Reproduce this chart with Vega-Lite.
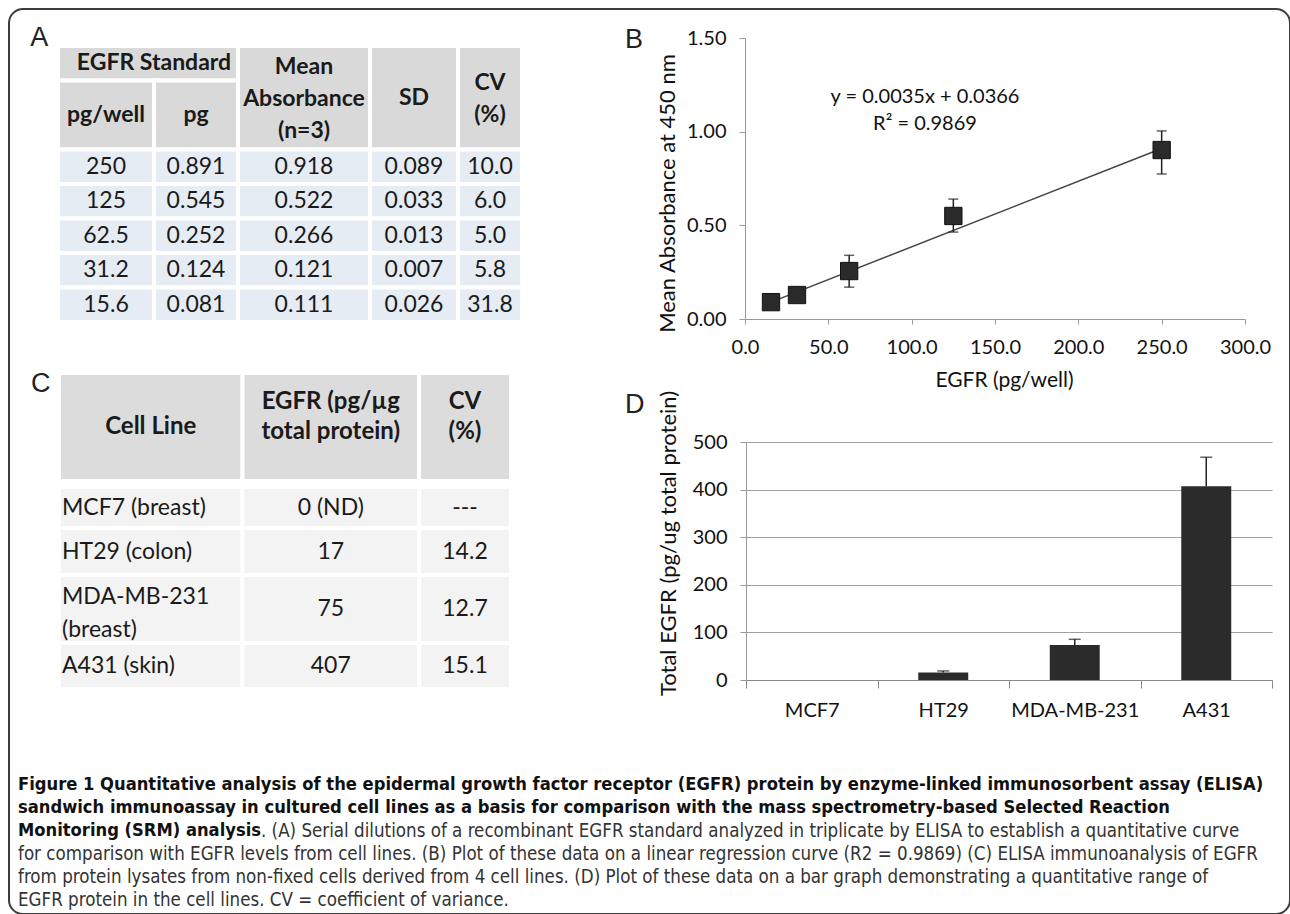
{
  "$schema": "https://vega.github.io/schema/vega-lite/v6.json",
  "width": 1281,
  "height": 905,
  "autosize": "none",
  "padding": {"left": 9, "top": 9, "right": 0, "bottom": 0},
  "background": "white",
  "config": {
    "view": {"stroke": "#3c3c3c", "strokeWidth": 2, "cornerRadius": 14},
    "font": "Lato",
    "axis": {"domainColor": "#999999", "tickColor": "#999999", "labelColor": "#111111", "titleColor": "#111111", "labelFont": "Lato", "titleFont": "Lato", "labelFlush": false, "labelOverlap": false}
  },
  "datasets": {
    "tabA": [
      {"c0": 0, "c1": 2, "r0": 0, "r1": 1, "cm": 1, "rm": 0.5, "k": "h", "t": "EGFR Standard"},
      {"c0": 0, "c1": 1, "r0": 1, "r1": 3, "cm": 0.5, "rm": 2, "k": "h", "t": "pg/well"},
      {"c0": 1, "c1": 2, "r0": 1, "r1": 3, "cm": 1.5, "rm": 2, "k": "h", "t": "pg"},
      {"c0": 2, "c1": 3, "r0": 0, "r1": 3, "cm": 2.5, "rm": 0.61, "k": "h", "t": "Mean\nAbsorbance\n(n=3)"},
      {"c0": 3, "c1": 4, "r0": 0, "r1": 3, "cm": 3.5, "rm": 1.5, "k": "h", "t": "SD"},
      {"c0": 4, "c1": 5, "r0": 0, "r1": 3, "cm": 4.5, "rm": 1.07, "k": "h", "t": "CV\n(%)"},
      {"c0": 0, "c1": 1, "r0": 3, "r1": 4, "cm": 0.5, "rm": 3.5, "k": "b", "t": "250"},
      {"c0": 1, "c1": 2, "r0": 3, "r1": 4, "cm": 1.5, "rm": 3.5, "k": "b", "t": "0.891"},
      {"c0": 2, "c1": 3, "r0": 3, "r1": 4, "cm": 2.5, "rm": 3.5, "k": "b", "t": "0.918"},
      {"c0": 3, "c1": 4, "r0": 3, "r1": 4, "cm": 3.5, "rm": 3.5, "k": "b", "t": "0.089"},
      {"c0": 4, "c1": 5, "r0": 3, "r1": 4, "cm": 4.5, "rm": 3.5, "k": "b", "t": "10.0"},
      {"c0": 0, "c1": 1, "r0": 4, "r1": 5, "cm": 0.5, "rm": 4.5, "k": "b", "t": "125"},
      {"c0": 1, "c1": 2, "r0": 4, "r1": 5, "cm": 1.5, "rm": 4.5, "k": "b", "t": "0.545"},
      {"c0": 2, "c1": 3, "r0": 4, "r1": 5, "cm": 2.5, "rm": 4.5, "k": "b", "t": "0.522"},
      {"c0": 3, "c1": 4, "r0": 4, "r1": 5, "cm": 3.5, "rm": 4.5, "k": "b", "t": "0.033"},
      {"c0": 4, "c1": 5, "r0": 4, "r1": 5, "cm": 4.5, "rm": 4.5, "k": "b", "t": "6.0"},
      {"c0": 0, "c1": 1, "r0": 5, "r1": 6, "cm": 0.5, "rm": 5.5, "k": "b", "t": "62.5"},
      {"c0": 1, "c1": 2, "r0": 5, "r1": 6, "cm": 1.5, "rm": 5.5, "k": "b", "t": "0.252"},
      {"c0": 2, "c1": 3, "r0": 5, "r1": 6, "cm": 2.5, "rm": 5.5, "k": "b", "t": "0.266"},
      {"c0": 3, "c1": 4, "r0": 5, "r1": 6, "cm": 3.5, "rm": 5.5, "k": "b", "t": "0.013"},
      {"c0": 4, "c1": 5, "r0": 5, "r1": 6, "cm": 4.5, "rm": 5.5, "k": "b", "t": "5.0"},
      {"c0": 0, "c1": 1, "r0": 6, "r1": 7, "cm": 0.5, "rm": 6.5, "k": "b", "t": "31.2"},
      {"c0": 1, "c1": 2, "r0": 6, "r1": 7, "cm": 1.5, "rm": 6.5, "k": "b", "t": "0.124"},
      {"c0": 2, "c1": 3, "r0": 6, "r1": 7, "cm": 2.5, "rm": 6.5, "k": "b", "t": "0.121"},
      {"c0": 3, "c1": 4, "r0": 6, "r1": 7, "cm": 3.5, "rm": 6.5, "k": "b", "t": "0.007"},
      {"c0": 4, "c1": 5, "r0": 6, "r1": 7, "cm": 4.5, "rm": 6.5, "k": "b", "t": "5.8"},
      {"c0": 0, "c1": 1, "r0": 7, "r1": 8, "cm": 0.5, "rm": 7.5, "k": "b", "t": "15.6"},
      {"c0": 1, "c1": 2, "r0": 7, "r1": 8, "cm": 1.5, "rm": 7.5, "k": "b", "t": "0.081"},
      {"c0": 2, "c1": 3, "r0": 7, "r1": 8, "cm": 2.5, "rm": 7.5, "k": "b", "t": "0.111"},
      {"c0": 3, "c1": 4, "r0": 7, "r1": 8, "cm": 3.5, "rm": 7.5, "k": "b", "t": "0.026"},
      {"c0": 4, "c1": 5, "r0": 7, "r1": 8, "cm": 4.5, "rm": 7.5, "k": "b", "t": "31.8"}
    ],
    "tabC": [
      {"c0": 0, "c1": 1, "r0": 0, "r1": 1, "cm": 0.5, "rm": 0.5, "k": "h", "t": "Cell Line"},
      {"c0": 1, "c1": 2, "r0": 0, "r1": 1, "cm": 1.5, "rm": 0.27, "k": "h", "t": "EGFR (pg/µg\ntotal protein)"},
      {"c0": 2, "c1": 3, "r0": 0, "r1": 1, "cm": 2.5, "rm": 0.27, "k": "h", "t": "CV\n(%)"},
      {"c0": 0, "c1": 1, "r0": 2, "r1": 3, "cm": 0.5, "rm": 2.5, "k": "b", "t": "MCF7 (breast)"},
      {"c0": 1, "c1": 2, "r0": 2, "r1": 3, "cm": 1.5, "rm": 2.5, "k": "b", "t": "0 (ND)"},
      {"c0": 2, "c1": 3, "r0": 2, "r1": 3, "cm": 2.5, "rm": 2.5, "k": "b", "t": "---"},
      {"c0": 0, "c1": 1, "r0": 3, "r1": 4, "cm": 0.5, "rm": 3.5, "k": "b", "t": "HT29 (colon)"},
      {"c0": 1, "c1": 2, "r0": 3, "r1": 4, "cm": 1.5, "rm": 3.5, "k": "b", "t": "17"},
      {"c0": 2, "c1": 3, "r0": 3, "r1": 4, "cm": 2.5, "rm": 3.5, "k": "b", "t": "14.2"},
      {"c0": 0, "c1": 1, "r0": 4, "r1": 5, "cm": 0.5, "rm": 4.32, "k": "b", "t": "MDA-MB-231\n(breast)"},
      {"c0": 1, "c1": 2, "r0": 4, "r1": 5, "cm": 1.5, "rm": 4.5, "k": "b", "t": "75"},
      {"c0": 2, "c1": 3, "r0": 4, "r1": 5, "cm": 2.5, "rm": 4.5, "k": "b", "t": "12.7"},
      {"c0": 0, "c1": 1, "r0": 5, "r1": 6, "cm": 0.5, "rm": 5.5, "k": "b", "t": "A431 (skin)"},
      {"c0": 1, "c1": 2, "r0": 5, "r1": 6, "cm": 1.5, "rm": 5.5, "k": "b", "t": "407"},
      {"c0": 2, "c1": 3, "r0": 5, "r1": 6, "cm": 2.5, "rm": 5.5, "k": "b", "t": "15.1"}
    ],
    "bpts": [
      {"x": 15.6, "y": 0.09},
      {"x": 31.2, "y": 0.128},
      {"x": 62.5, "y": 0.256, "lo": 0.17, "hi": 0.34},
      {"x": 125, "y": 0.55, "lo": 0.464, "hi": 0.64},
      {"x": 250, "y": 0.902, "lo": 0.774, "hi": 1.004}
    ],
    "bline": [
      {"x": 15.6, "y": 0.09},
      {"x": 250, "y": 0.91}
    ],
    "dbars": [
      {"c": "MCF7", "v": 0},
      {"c": "HT29", "v": 15.5, "hi": 19},
      {"c": "MDA-MB-231", "v": 73.5, "hi": 85.5},
      {"c": "A431", "v": 407, "hi": 468}
    ],
    "cap": [
      {"line": 1, "w": "b", "t": "Figure 1 Quantitative analysis of the epidermal growth factor receptor (EGFR) protein by enzyme-linked immunosorbent assay (ELISA)"},
      {"line": 2, "w": "b", "t": "sandwich immunoassay in cultured cell lines as a basis for comparison with the mass spectrometry-based Selected Reaction"},
      {"line": 3, "w": "b", "t": "Monitoring (SRM) analysis"},
      {"line": 3, "w": "m", "t": ". (A) Serial dilutions of a recombinant EGFR standard analyzed in triplicate by ELISA to establish a quantitative curve"},
      {"line": 4, "w": "n", "t": "for comparison with EGFR levels from cell lines. (B) Plot of these data on a linear regression curve (R2 = 0.9869) (C) ELISA immunoanalysis of EGFR"},
      {"line": 5, "w": "n", "t": "from protein lysates from non-fixed cells derived from 4 cell lines. (D) Plot of these data on a bar graph demonstrating a quantitative range of"},
      {"line": 6, "w": "n", "t": "EGFR protein in the cell lines. CV = coefficient of variance."}
    ]
  },
  "resolve": {
    "scale": {"x": "independent", "y": "independent", "color": "independent"},
    "axis": {"x": "independent", "y": "independent"}
  },
  "layer": [
    {
      "layer": [
        {
          "data": {"name": "tabA"},
          "mark": {"type": "rect", "stroke": "white", "strokeWidth": 4},
          "encoding": {
            "x": {"field": "c0", "type": "quantitative", "scale": {"domain": [0, 1, 2, 3, 4, 5], "range": [49, 145, 229, 361, 449, 513], "nice": false, "zero": false}, "axis": null},
            "x2": {"field": "c1"},
            "y": {"field": "r0", "type": "quantitative", "scale": {"domain": [0, 8], "range": [37, 313], "nice": false, "zero": false}, "axis": null},
            "y2": {"field": "r1"},
            "color": {"field": "k", "type": "nominal", "scale": {"domain": ["h", "b"], "range": ["#d9d9d9", "#e6ecf3"]}, "legend": null}
          }
        },
        {
          "data": {"name": "tabA"},
          "transform": [{"filter": "datum.k == 'h'"}],
          "mark": {"type": "text", "fontWeight": "bold", "fontSize": 23, "lineBreak": "\n", "lineHeight": 32, "align": "center", "baseline": "middle", "color": "#1a1a1a"},
          "encoding": {
            "x": {"field": "cm", "type": "quantitative", "scale": {"domain": [0, 1, 2, 3, 4, 5], "range": [49, 145, 229, 361, 449, 513], "nice": false, "zero": false}, "axis": null},
            "y": {"field": "rm", "type": "quantitative", "scale": {"domain": [0, 8], "range": [37, 313], "nice": false, "zero": false}, "axis": null},
            "text": {"field": "t"}
          }
        },
        {
          "data": {"name": "tabA"},
          "transform": [{"filter": "datum.k == 'b'"}],
          "mark": {"type": "text", "fontSize": 23, "align": "center", "baseline": "middle", "color": "#1a1a1a"},
          "encoding": {
            "x": {"field": "cm", "type": "quantitative", "scale": {"domain": [0, 1, 2, 3, 4, 5], "range": [49, 145, 229, 361, 449, 513], "nice": false, "zero": false}, "axis": null},
            "y": {"field": "rm", "type": "quantitative", "scale": {"domain": [0, 8], "range": [37, 313], "nice": false, "zero": false}, "axis": null},
            "text": {"field": "t"}
          }
        },
        {
          "data": {"values": [{"letter": "A"}]},
          "mark": {"type": "text", "font": "Liberation Sans", "fontSize": 27, "align": "left", "baseline": "alphabetic", "color": "#222222"},
          "encoding": {
            "x": {"datum": -0.29, "type": "quantitative", "scale": {"domain": [0, 1, 2, 3, 4, 5], "range": [49, 145, 229, 361, 449, 513], "nice": false, "zero": false}, "axis": null},
            "y": {"datum": 0, "type": "quantitative", "scale": {"domain": [0, 8], "range": [37, 313], "nice": false, "zero": false}, "axis": null},
            "text": {"field": "letter"}
          }
        }
      ]
    },
    {
      "layer": [
        {
          "data": {"name": "bline"},
          "mark": {"type": "line", "color": "#444444", "strokeWidth": 1.5},
          "encoding": {
            "x": {"field": "x", "type": "quantitative", "scale": {"domain": [0, 300], "range": [736, 1236], "nice": false, "zero": false},
              "axis": {"orient": "bottom", "offset": -595, "values": [0, 50, 100, 150, 200, 250, 300], "format": ".1f", "tickSize": 5, "labelPadding": 13, "labelFontSize": 20, "grid": false, "title": "EGFR (pg/well)", "titleX": 995, "titleY": 61, "titleBaseline": "middle", "titleFontSize": 21, "titleFontWeight": "normal"}},
            "y": {"field": "y", "type": "quantitative", "scale": {"domain": [0, 1.5], "range": [310, 29], "nice": false, "zero": false},
              "axis": {"orient": "left", "offset": -736, "values": [0, 0.5, 1, 1.5], "format": ".2f", "tickSize": 6, "labelPadding": 13, "labelFontSize": 20, "grid": false, "title": "Mean Absorbance at 450 nm", "titleX": -78, "titleY": 184, "titleAngle": -90, "titleBaseline": "middle", "titleFontSize": 22, "titleFontWeight": "normal"}}
          }
        },
        {
          "data": {"name": "bpts"},
          "mark": {"type": "rule", "color": "#222222", "strokeWidth": 1.5},
          "encoding": {
            "x": {"field": "x", "type": "quantitative"},
            "y": {"field": "lo", "type": "quantitative"},
            "y2": {"field": "hi"}
          }
        },
        {
          "data": {"name": "bpts"},
          "mark": {"type": "tick", "orient": "horizontal", "size": 10, "thickness": 1.5, "color": "#222222"},
          "encoding": {
            "x": {"field": "x", "type": "quantitative"},
            "y": {"field": "hi", "type": "quantitative"}
          }
        },
        {
          "data": {"name": "bpts"},
          "mark": {"type": "tick", "orient": "horizontal", "size": 10, "thickness": 1.5, "color": "#222222"},
          "encoding": {
            "x": {"field": "x", "type": "quantitative"},
            "y": {"field": "lo", "type": "quantitative"}
          }
        },
        {
          "data": {"name": "bpts"},
          "mark": {"type": "point", "shape": "square", "filled": true, "size": 300, "color": "#2a2a2a", "stroke": "#111111", "strokeWidth": 1, "opacity": 1},
          "encoding": {
            "x": {"field": "x", "type": "quantitative"},
            "y": {"field": "y", "type": "quantitative"}
          }
        },
        {
          "data": {"values": [{"t": "y = 0.0035x + 0.0366"}]},
          "mark": {"type": "text", "fontSize": 20, "align": "center", "baseline": "middle", "color": "#111111"},
          "encoding": {
            "x": {"datum": 108, "type": "quantitative"},
            "y": {"datum": 1.185, "type": "quantitative"},
            "text": {"field": "t"}
          }
        },
        {
          "data": {"values": [{"t": "R² = 0.9869"}]},
          "mark": {"type": "text", "fontSize": 20, "align": "center", "baseline": "middle", "color": "#111111"},
          "encoding": {
            "x": {"datum": 108, "type": "quantitative"},
            "y": {"datum": 1.041, "type": "quantitative"},
            "text": {"field": "t"}
          }
        },
        {
          "data": {"values": [{"letter": "B"}]},
          "mark": {"type": "text", "font": "Liberation Sans", "fontSize": 27, "align": "left", "baseline": "alphabetic", "color": "#222222"},
          "encoding": {
            "x": {"datum": -72, "type": "quantitative"},
            "y": {"datum": 1.447, "type": "quantitative"},
            "text": {"field": "letter"}
          }
        },
        {
          "data": {"values": [{"letter": "D"}]},
          "mark": {"type": "text", "font": "Liberation Sans", "fontSize": 27, "align": "left", "baseline": "alphabetic", "color": "#222222"},
          "encoding": {
            "x": {"datum": -72, "type": "quantitative"},
            "y": {"datum": -0.502, "type": "quantitative"},
            "text": {"field": "letter"}
          }
        }
      ]
    },
    {
      "layer": [
        {
          "data": {"name": "tabC"},
          "mark": {"type": "rect", "stroke": "white", "strokeWidth": 4},
          "encoding": {
            "x": {"field": "c0", "type": "quantitative", "scale": {"domain": [0, 1, 2, 3], "range": [50, 233.5, 410, 502], "nice": false, "zero": false}, "axis": null},
            "x2": {"field": "c1"},
            "y": {"field": "r0", "type": "quantitative", "scale": {"domain": [0, 1, 2, 3, 4, 5, 6], "range": [364, 472, 478, 519, 566, 634, 680], "nice": false, "zero": false}, "axis": null},
            "y2": {"field": "r1"},
            "color": {"field": "k", "type": "nominal", "scale": {"domain": ["h", "b"], "range": ["#dcdcdc", "#f3f3f3"]}, "legend": null}
          }
        },
        {
          "data": {"name": "tabC"},
          "transform": [{"filter": "datum.k == 'h'"}],
          "mark": {"type": "text", "fontWeight": "bold", "fontSize": 24, "lineBreak": "\n", "lineHeight": 30, "align": "center", "baseline": "middle", "color": "#1a1a1a"},
          "encoding": {
            "x": {"field": "cm", "type": "quantitative", "scale": {"domain": [0, 1, 2, 3], "range": [50, 233.5, 410, 502], "nice": false, "zero": false}, "axis": null},
            "y": {"field": "rm", "type": "quantitative", "scale": {"domain": [0, 1, 2, 3, 4, 5, 6], "range": [364, 472, 478, 519, 566, 634, 680], "nice": false, "zero": false}, "axis": null},
            "text": {"field": "t"}
          }
        },
        {
          "data": {"name": "tabC"},
          "transform": [{"filter": "datum.k == 'b' && datum.c0 > 0"}],
          "mark": {"type": "text", "fontSize": 23, "align": "center", "baseline": "middle", "color": "#1a1a1a"},
          "encoding": {
            "x": {"field": "cm", "type": "quantitative", "scale": {"domain": [0, 1, 2, 3], "range": [50, 233.5, 410, 502], "nice": false, "zero": false}, "axis": null},
            "y": {"field": "rm", "type": "quantitative", "scale": {"domain": [0, 1, 2, 3, 4, 5, 6], "range": [364, 472, 478, 519, 566, 634, 680], "nice": false, "zero": false}, "axis": null},
            "text": {"field": "t"}
          }
        },
        {
          "data": {"name": "tabC"},
          "transform": [{"filter": "datum.k == 'b' && datum.c0 == 0"}],
          "mark": {"type": "text", "fontSize": 23, "lineBreak": "\n", "lineHeight": 33, "align": "left", "baseline": "middle", "dx": 3, "color": "#1a1a1a"},
          "encoding": {
            "x": {"field": "c0", "type": "quantitative", "scale": {"domain": [0, 1, 2, 3], "range": [50, 233.5, 410, 502], "nice": false, "zero": false}, "axis": null},
            "y": {"field": "rm", "type": "quantitative", "scale": {"domain": [0, 1, 2, 3, 4, 5, 6], "range": [364, 472, 478, 519, 566, 634, 680], "nice": false, "zero": false}, "axis": null},
            "text": {"field": "t"}
          }
        },
        {
          "data": {"values": [{"letter": "C"}]},
          "mark": {"type": "text", "font": "Liberation Sans", "fontSize": 27, "align": "left", "baseline": "alphabetic", "color": "#222222"},
          "encoding": {
            "x": {"datum": -0.153, "type": "quantitative", "scale": {"domain": [0, 1, 2, 3], "range": [50, 233.5, 410, 502], "nice": false, "zero": false}, "axis": null},
            "y": {"datum": 0.18, "type": "quantitative", "scale": {"domain": [0, 1, 2, 3, 4, 5, 6], "range": [364, 472, 478, 519, 566, 634, 680], "nice": false, "zero": false}, "axis": null},
            "text": {"field": "letter"}
          }
        }
      ]
    },
    {
      "layer": [
        {
          "data": {"name": "dbars"},
          "mark": {"type": "bar", "width": {"band": 0.38}, "color": "#2b2b2b"},
          "encoding": {
            "x": {"field": "c", "type": "nominal", "sort": null, "scale": {"type": "band", "domain": ["MCF7", "HT29", "MDA-MB-231", "A431"], "range": [737, 1263], "paddingInner": 0, "paddingOuter": 0},
              "axis": {"orient": "bottom", "offset": -234, "title": null, "labelAngle": 0, "labelFontSize": 20, "labelPadding": 12, "tickSize": 8, "tickBand": "extent", "domainColor": "#8a8a8a", "tickColor": "#8a8a8a"}},
            "y": {"field": "v", "type": "quantitative", "scale": {"domain": [0, 500], "range": [671, 433], "nice": false, "zero": false},
              "axis": {"orient": "left", "offset": -737, "values": [0, 100, 200, 300, 400, 500], "grid": true, "gridColor": "#a0a0a0", "gridWidth": 1.2, "tickSize": 6, "labelPadding": 13, "labelFontSize": 20, "title": "Total EGFR (pg/ug total protein)", "titleX": -78, "titleY": 534, "titleAngle": -90, "titleBaseline": "middle", "titleFontSize": 22, "titleFontWeight": "normal"}}
          }
        },
        {
          "data": {"name": "dbars"},
          "mark": {"type": "rule", "color": "#222222", "strokeWidth": 1.5},
          "encoding": {
            "x": {"field": "c", "type": "nominal", "sort": null},
            "y": {"field": "v", "type": "quantitative"},
            "y2": {"field": "hi"}
          }
        },
        {
          "data": {"name": "dbars"},
          "mark": {"type": "tick", "orient": "horizontal", "size": 12, "thickness": 1.5, "color": "#222222"},
          "encoding": {
            "x": {"field": "c", "type": "nominal", "sort": null},
            "y": {"field": "hi", "type": "quantitative"}
          }
        }
      ]
    },
    {
      "layer": [
        {
          "data": {"name": "cap"},
          "transform": [{"filter": "datum.w == 'b'"}],
          "mark": {"type": "text", "align": "left", "baseline": "middle", "font": "DejaVu Sans Condensed", "fontSize": 18.2, "fontWeight": "bold", "color": "#111111"},
          "encoding": {
            "x": {"datum": 0, "type": "quantitative", "scale": {"domain": [0, 1], "range": [9, 1281], "nice": false, "zero": false}, "axis": null},
            "y": {"field": "line", "type": "quantitative", "scale": {"domain": [1, 6], "range": [776, 891], "nice": false, "zero": false}, "axis": null},
            "text": {"field": "t"}
          }
        },
        {
          "data": {"name": "cap"},
          "transform": [{"filter": "datum.w == 'n'"}],
          "mark": {"type": "text", "align": "left", "baseline": "middle", "font": "DejaVu Sans Condensed", "fontSize": 18.6, "color": "#333333"},
          "encoding": {
            "x": {"datum": 0, "type": "quantitative", "scale": {"domain": [0, 1], "range": [9, 1281], "nice": false, "zero": false}, "axis": null},
            "y": {"field": "line", "type": "quantitative", "scale": {"domain": [1, 6], "range": [776, 891], "nice": false, "zero": false}, "axis": null},
            "text": {"field": "t"}
          }
        },
        {
          "data": {"name": "cap"},
          "transform": [{"filter": "datum.w == 'm'"}],
          "mark": {"type": "text", "align": "left", "baseline": "middle", "dx": 243, "font": "DejaVu Sans Condensed", "fontSize": 18.6, "color": "#333333"},
          "encoding": {
            "x": {"datum": 0, "type": "quantitative", "scale": {"domain": [0, 1], "range": [9, 1281], "nice": false, "zero": false}, "axis": null},
            "y": {"field": "line", "type": "quantitative", "scale": {"domain": [1, 6], "range": [776, 891], "nice": false, "zero": false}, "axis": null},
            "text": {"field": "t"}
          }
        }
      ]
    }
  ]
}
